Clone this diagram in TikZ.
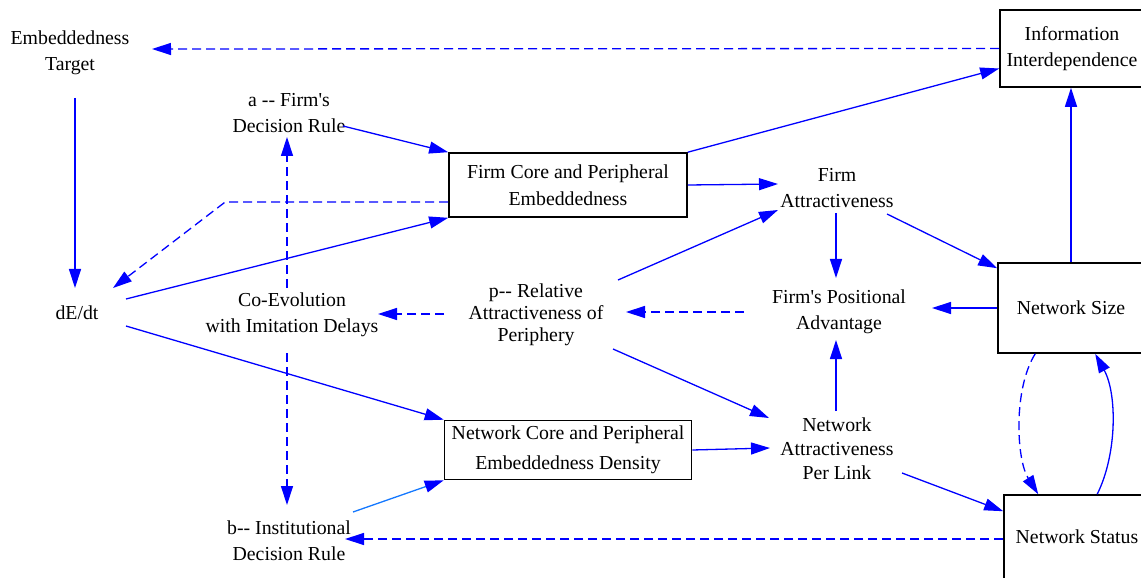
\documentclass[tikz,border=0pt]{standalone}
\usepackage{fontspec}
\setmainfont{Liberation Serif}[Ligatures=TeXOff]
\usetikzlibrary{arrows.meta,calc}
\definecolor{linkblue}{RGB}{0,0,255}
\definecolor{lightlink}{RGB}{20,120,255}

\begin{document}
\begin{tikzpicture}[x=1pt, y=-1pt,
    every node/.style={font=\fontsize{19.8}{26}\selectfont, align=center, inner sep=0pt},
    stockbox/.style={draw, line width=1.6pt},
    flow/.style={draw=linkblue, line width=1.3pt, -{Triangle[length=19pt,width=12pt]}},
    flowd/.style={flow, dash pattern=on 9pt off 5pt}]
    \useasboundingbox (0,0) rectangle (1141,580);
    \clip (0,0) rectangle (1141,577.5);

    \node (tgt) at (70,53) {Embeddedness\\Target};
    \node[stockbox, minimum width=144pt, minimum height=77pt] (info) at (1072,48.5) {Information\\Interdependence};
    \node (arule) at (289,113) {a -- Firm's\\Decision Rule};
    \node[stockbox, minimum width=238pt, minimum height=64pt, font=\fontsize{19.8}{27}\selectfont] (fcore) at (568,185) {Firm Core and Peripheral\\Embeddedness};
    \node (fattr) at (837,188) {Firm\\Attractiveness};
    \node (dedt) at (77,313) {dE/dt};
    \node (coev) at (292,315) {Co-Evolution\\with Imitation Delays};
    \node[font=\fontsize{19.8}{22}\selectfont] (prel) at (536,315) {p-- Relative\\Attractiveness of\\Periphery};
    \node (fpos) at (839,312) {Firm's Positional\\Advantage};
    \node[stockbox, minimum width=146pt, minimum height=90pt] (nsize) at (1071,308) {Network Size};
    \node[stockbox, minimum width=247pt, minimum height=59pt, font=\fontsize{19.8}{30}\selectfont] (ncore) at (568,450) {Network Core and Peripheral\\Embeddedness Density};
    \node[font=\fontsize{19.8}{24}\selectfont] (nattr) at (837,449) {Network\\Attractiveness\\Per Link};
    \node (brule) at (289,541) {b-- Institutional\\Decision Rule};
    \node[stockbox, minimum width=146pt, minimum height=84pt] (nstat) at (1077,537) {Network Status};

    \draw[flowd] (info.west) -- ($(tgt)+(82,-4)$);
    \draw[flow] ($(tgt)+(5,45)$) -- ($(dedt)+(-2,-25)$);
    \draw[flow] ($(arule)+(54,13)$) -- (fcore.north west);
    \draw[flow] (fcore.north east) -- ($(info.west)+(0,20)$);
    \draw[flow] (fcore.east) -- ($(fattr)+(-59,-4)$);
    \draw[flowd] ($(fcore.west)+(0,17)$) -- ++(-223,0) -- ($(dedt)+(36,-25)$);
    \draw[flow] ($(dedt)+(49,-14)$) -- (fcore.south west);
    \draw[flow] ($(dedt)+(49,13)$) -- (ncore.north west);
    \draw[flowd] ($(coev)+(-5,-27)$) -- ($(arule)+(-2,24)$);
    \draw[flowd] ($(coev)+(-5,38)$) -- ($(brule)+(-2,-36)$);
    \draw[flowd] ($(prel)+(-92,-1)$) -- ($(coev)+(86,-1)$);
    \draw[flowd] ($(fpos)+(-95,0)$) -- ($(prel)+(90,-3)$);
    \draw[flow] ($(prel)+(82,-35)$) -- ($(fattr)+(-59,22)$);
    \draw[flow] ($(prel)+(77,34)$) -- ($(nattr)+(-68,-31)$);
    \draw[flow] ($(fattr)+(-1,25)$) -- ($(fpos)+(-3,-34)$);
    \draw[flow] ($(fattr)+(50,26)$) -- ($(nsize.north west)+(0,6)$);
    \draw[flow] (nsize.west) -- ($(fpos)+(93,-4)$);
    \draw[flow] (nsize.north) -- (nsize.north |- info.south);
    \draw[flow] ($(nattr)+(-1,-38)$) -- ($(fpos)+(-3,28)$);
    \draw[flow] (ncore.east) -- ($(nattr)+(-67,-1)$);
    \draw[flow] ($(nattr)+(65,24)$) -- ($(nstat.north west)+(0,17)$);
    \draw[flowd] ($(nstat.west)+(0,2)$) -- ($(brule)+(56,-2)$);
    \draw[flow, draw=lightlink, -{Triangle[length=19pt,width=12pt,color=linkblue]}] ($(brule)+(64,-29)$) -- (ncore.south west);
    \draw[flowd] ($(nsize.south west)+(38,0)$) .. controls +(-22,35) and +(-22,-35) .. ($(nstat.north west)+(35,0)$);
    \draw[flow] ($(nstat.north west)+(94,0)$) .. controls +(20,-40) and +(22,40) .. ($(nsize.south west)+(98,0)$);
\end{tikzpicture}
\end{document}
